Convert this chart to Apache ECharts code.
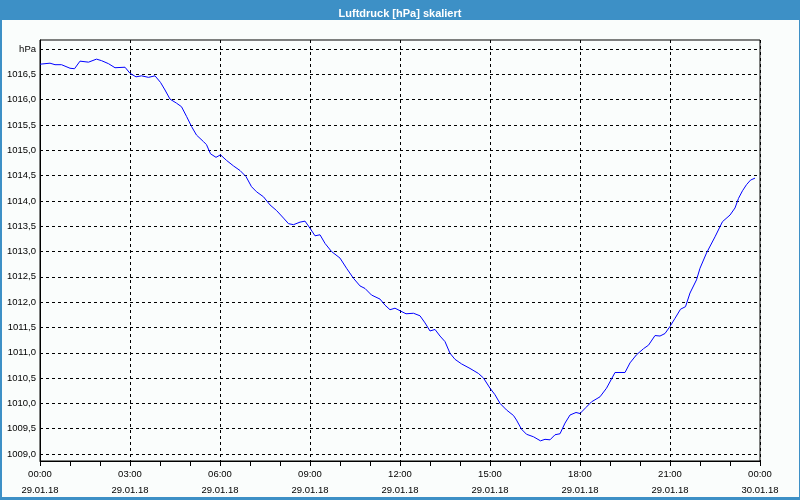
<!DOCTYPE html>
<html>
<head>
<meta charset="utf-8">
<script src="https://cdn.jsdelivr.net/npm/echarts@6/dist/echarts.min.js"></script>
<style>
  html, body { margin: 0; padding: 0; }
  #frame { position: relative; width: 800px; height: 500px; background: #3d90c6; overflow: hidden; }
  #inner { position: absolute; left: 2px; top: 20px; right: 1px; bottom: 3px; background: #fafdfc; }
  #chart { position: absolute; left: 0; top: 0; width: 800px; height: 500px; }
</style>
</head>
<body>
<div id="frame"><div id="inner"></div><div id="chart"></div></div>
<script>
// Time of each reading, minutes after 29.01.18 00:00
const minutes = [0, 3, 20, 30, 43, 60, 69, 80, 97, 113, 123, 137, 150, 170, 180, 192, 203, 217, 230, 241,
  250, 260, 273, 283, 293, 303, 313, 327, 333, 341, 352, 361, 373, 387, 400, 412, 423, 433, 447, 460,
  473, 487, 497, 507, 520, 530, 540, 550, 560, 570, 583, 600, 613, 627, 640, 650, 663, 680, 690, 700,
  710, 720, 732, 747, 760, 770, 780, 790, 800, 810, 820, 830, 843, 860, 877, 887, 900, 910, 920, 933,
  947, 953, 963, 973, 987, 1001, 1010, 1020, 1030, 1040, 1050, 1060, 1072, 1080, 1092, 1103, 1120, 1133, 1150, 1170,
  1180, 1193, 1207, 1217, 1230, 1240, 1250, 1260, 1270, 1281, 1291, 1300, 1313, 1320, 1333, 1350, 1365, 1380, 1390, 1397,
  1405, 1413, 1421, 1430];
// Air pressure, hPa
const pressure = [1016.70, 1016.71, 1016.72, 1016.69, 1016.69, 1016.62, 1016.61, 1016.76, 1016.74, 1016.80, 1016.77, 1016.71, 1016.63, 1016.64, 1016.52, 1016.45, 1016.47, 1016.44, 1016.47, 1016.34,
  1016.19, 1016.01, 1015.93, 1015.86, 1015.67, 1015.47, 1015.30, 1015.17, 1015.11, 1014.93, 1014.86, 1014.91, 1014.80, 1014.69, 1014.60, 1014.48, 1014.28, 1014.18, 1014.08, 1013.92,
  1013.81, 1013.66, 1013.55, 1013.53, 1013.58, 1013.60, 1013.46, 1013.31, 1013.33, 1013.16, 1013.00, 1012.87, 1012.67, 1012.47, 1012.32, 1012.27, 1012.14, 1012.06, 1011.94, 1011.85,
  1011.88, 1011.83, 1011.77, 1011.78, 1011.73, 1011.59, 1011.43, 1011.46, 1011.33, 1011.22, 1010.99, 1010.87, 1010.78, 1010.69, 1010.59, 1010.50, 1010.30, 1010.17, 1010.00, 1009.87,
  1009.76, 1009.67, 1009.49, 1009.39, 1009.34, 1009.26, 1009.29, 1009.28, 1009.38, 1009.40, 1009.61, 1009.77, 1009.82, 1009.80, 1009.92, 1010.03, 1010.13, 1010.30, 1010.61, 1010.61,
  1010.80, 1010.96, 1011.08, 1011.15, 1011.34, 1011.33, 1011.38, 1011.52, 1011.68, 1011.86, 1011.91, 1012.18, 1012.44, 1012.67, 1012.97, 1013.29, 1013.59, 1013.72, 1013.86, 1014.05,
  1014.20, 1014.32, 1014.41, 1014.45];
const dateLabels = ['29.01.18', '30.01.18'];
const unitLabel = 'hPa';
const titleText = 'Luftdruck [hPa] skaliert';

const FONT = 'Liberation Sans';
const chart = echarts.init(document.getElementById('chart'), null, { renderer: 'canvas' });

function pad(n) { return (n < 10 ? '0' : '') + n; }
function xLabel(v) {
  const day = Math.floor(v / 1440);
  const m = v % 1440;
  return pad(Math.floor(m / 60)) + ':' + pad(m % 60) + '\n' + dateLabels[day];
}

// pixel scale: 1009 -> y=454, 1017 -> y=49 ; frame from y=40 to y=461
const pxPerHpa = 405 / 8;
const frameMin = 1009 - 7 / pxPerHpa;
const frameMax = 1017 + 9 / pxPerHpa;

chart.setOption({
  backgroundColor: 'transparent',
  animation: false,
  title: {
    text: titleText, left: 'center', top: 3,
    textStyle: { color: '#ffffff', fontSize: 11, fontWeight: 'bold', fontFamily: FONT }
  },
  grid: [
    { left: 40, right: 40, top: 40, bottom: 39, show: true, borderColor: '#000', borderWidth: 1, backgroundColor: 'transparent' },
    { left: 40, right: 40, top: 49, bottom: 46 }
  ],
  xAxis: [
    {
      type: 'value', gridIndex: 0, min: 0, max: 1440, interval: 180,
      axisLine: { show: true, lineStyle: { color: '#000', width: 1 } },
      axisTick: { show: true, length: 5, lineStyle: { color: '#000' } },
      minorTick: { show: true, splitNumber: 3, length: 5, lineStyle: { color: '#000' } },
      splitLine: { show: true, lineStyle: { color: '#000', type: [3, 3], width: 1 } },
      axisLabel: { formatter: xLabel, color: '#000', fontSize: 9.5, fontFamily: FONT, lineHeight: 16, margin: 5 }
    },
    { type: 'value', gridIndex: 1, min: 0, max: 1440, show: false }
  ],
  yAxis: [
    {
      type: 'value', gridIndex: 0, min: frameMin, max: frameMax,
      axisLine: { show: true, lineStyle: { color: '#000', width: 1 } },
      axisTick: { show: false }, axisLabel: { show: false }, splitLine: { show: false }
    },
    {
      type: 'value', gridIndex: 1, min: 1009, max: 1017, interval: 0.5,
      axisLine: { show: false }, axisTick: { show: false },
      splitLine: { show: true, lineStyle: { color: '#000', type: [3, 3], width: 1 } },
      axisLabel: {
        color: '#000', fontSize: 9.5, fontFamily: FONT, margin: 4,
        formatter: v => Math.abs(v - 1017) < 1e-6 ? unitLabel : v.toFixed(1).replace('.', ',')
      }
    }
  ],
  series: [{
    type: 'line', xAxisIndex: 0, yAxisIndex: 0,
    data: minutes.map((m, i) => [m, pressure[i]]),
    showSymbol: false, smooth: false,
    lineStyle: { color: '#0000ff', width: 1 },
    z: 5
  }]
});
</script>
</body>
</html>
